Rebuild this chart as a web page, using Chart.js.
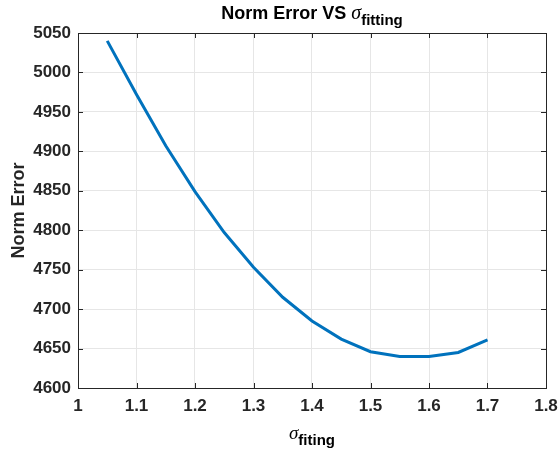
<!DOCTYPE html>
<html>
<head>
<meta charset="utf-8">
<script src="https://cdn.jsdelivr.net/npm/chart.js@4.4.1/dist/chart.umd.min.js"></script>
<style>
  html, body { margin: 0; padding: 0; background: #fff; }
  #wrap { position: relative; width: 559px; height: 451px; }
  #chart { position: absolute; left: 0; top: 0; }
  .lbl { position: absolute; color: #000; font-family: "Liberation Sans", Arial, sans-serif; font-weight: bold; white-space: nowrap; transform: translateX(-50%); }
  .sig { font-family: "Liberation Serif", "DejaVu Serif", serif; font-style: italic; font-weight: normal; }
  .sub { position: relative; }
</style>
</head>
<body>
<div id="wrap">
  <canvas id="chart" width="559" height="451"></canvas>
  <div class="lbl" id="title" style="left:312px; top:1px; font-size:18px;">Norm Error VS <span class="sig" style="font-size:20px;">σ</span><span class="sub" style="font-size:15px; top:6px;">fitting</span></div>
  <div class="lbl" id="xlabel" style="left:312px; top:422px; font-size:15px;"><span class="sig" style="font-size:19px;">σ</span><span class="sub" style="font-size:15px; top:6px;">fiting</span></div>
</div>
<script>
// sigma values on the x axis
const sigmaValues = [1.05, 1.1, 1.15, 1.2, 1.25, 1.3, 1.35, 1.4, 1.45, 1.5, 1.55, 1.6, 1.65, 1.7];
// norm error
const normError = [5040, 4972, 4907, 4849, 4797, 4753, 4715, 4685, 4662, 4646, 4640, 4640, 4645, 4661];

const xMin = 1, xMax = 1.8, xStep = 0.1;
const yMin = 4600, yMax = 5050, yStep = 50;

const axisColor = '#262626';
const tickFont = { family: 'Liberation Sans', size: 17, weight: 'bold' };

// MATLAB style: box round the plot, ticks pointing inwards
const boxTicks = {
    id: 'boxTicks',
    afterDraw(chart) {
        const { ctx, chartArea: a, scales } = chart;
        const len = 5;
        ctx.save();
        ctx.strokeStyle = axisColor;
        ctx.lineWidth = 1;
        ctx.beginPath();
        scales.x.ticks.forEach(t => {
            const px = Math.round(scales.x.getPixelForValue(t.value)) + 0.5;
            ctx.moveTo(px, a.bottom); ctx.lineTo(px, a.bottom - len);
            ctx.moveTo(px, a.top); ctx.lineTo(px, a.top + len);
        });
        scales.y.ticks.forEach(t => {
            const py = Math.round(scales.y.getPixelForValue(t.value)) + 0.5;
            ctx.moveTo(a.left, py); ctx.lineTo(a.left + len, py);
            ctx.moveTo(a.right, py); ctx.lineTo(a.right - len, py);
        });
        ctx.stroke();
        ctx.strokeRect(Math.round(a.left) + 0.5, Math.round(a.top) + 0.5,
            Math.round(a.right - a.left), Math.round(a.bottom - a.top));
        ctx.restore();
    }
};

new Chart(document.getElementById('chart'), {
    type: 'line',
    data: {
        datasets: [{
            data: sigmaValues.map((s, i) => ({ x: s, y: normError[i] })),
            borderColor: '#0072BD',
            borderWidth: 3,
            pointRadius: 0,
            tension: 0,
            fill: false
        }]
    },
    options: {
        responsive: false,
        animation: false,
        layout: { padding: { top: 33, right: 13, left: 0, bottom: 0 } },
        plugins: { legend: { display: false }, tooltip: { enabled: false } },
        scales: {
            x: {
                type: 'linear',
                min: xMin, max: xMax,
                afterFit: s => { s.height = 63; s.paddingLeft = 0; s.paddingRight = 0; },
                border: { display: false },
                grid: { color: '#e6e6e6', drawTicks: false },
                ticks: {
                    stepSize: xStep,
                    padding: 8,
                    color: axisColor,
                    font: tickFont,
                    maxRotation: 0,
                    callback: v => String(Number(v.toFixed(1)))
                }
            },
            y: {
                min: yMin, max: yMax,
                afterFit: s => { s.width = 78; s.paddingTop = 0; s.paddingBottom = 0; },
                border: { display: false },
                grid: { color: '#e6e6e6', drawTicks: false },
                ticks: {
                    stepSize: yStep,
                    padding: 7,
                    color: axisColor,
                    font: tickFont,
                    callback: v => String(v)
                },
                title: {
                    display: true,
                    text: 'Norm Error',
                    color: axisColor,
                    font: { family: 'Liberation Sans', size: 18, weight: 'bold' },
                    padding: { top: 8, bottom: 0 }
                }
            }
        }
    },
    plugins: [boxTicks]
});
</script>
</body>
</html>
